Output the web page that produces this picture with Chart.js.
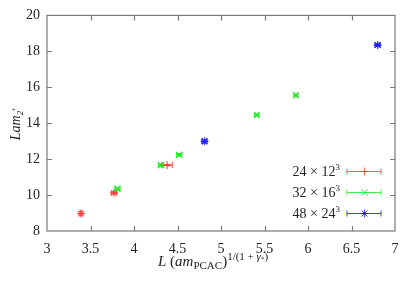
<!DOCTYPE html>
<html>
<head>
<meta charset="utf-8">
<script src="https://cdn.jsdelivr.net/npm/chart.js@4.4.1/dist/chart.umd.min.js"></script>
<style>
  html, body { margin: 0; padding: 0; background: #fff; }
  #wrap { width: 415px; height: 291px; position: relative; }
</style>
</head>
<body>
<div id="wrap"><canvas id="lamChart"></canvas></div>
<script>
// values
const xTicks = [3, 3.5, 4, 4.5, 5, 5.5, 6, 6.5, 7];
const yTicks = [8, 10, 12, 14, 16, 18, 20];

const redX = [3.39, 3.77, 4.38];
const redY = [8.97, 10.12, 11.67];
const redXErr = [0.02, 0.03, 0.06];
const redYErr = [0.12, 0.08, 0.03];

const greenX = [3.81, 4.31, 4.52, 5.41, 5.86];
const greenY = [10.35, 11.66, 12.24, 14.46, 15.56];
const greenXErr = [0.03, 0.03, 0.03, 0.02, 0.02];
const greenYErr = [0.07, 0.06, 0.07, 0.05, 0.05];

const blueX = [4.81, 6.80];
const blueY = [12.99, 18.35];
const blueXErr = [0.03, 0.03];
const blueYErr = [0.08, 0.07];

const legendLabels = [["24", "12"], ["32", "16"], ["48", "24"]];
const FONT = "'Liberation Serif', 'DejaVu Serif', serif";

function pts(xs, ys, xe, ye) {
  return xs.map((x, i) => ({ x, y: ys[i], xe: xe[i], ye: ye[i] }));
}

const series = [
  { label: "24x12^3", color: "rgba(255,40,40,0.75)", style: "cross", data: pts(redX, redY, redXErr, redYErr) },
  { label: "32x16^3", color: "rgba(20,235,20,0.8)", style: "crossRot", data: pts(greenX, greenY, greenXErr, greenYErr) },
  { label: "48x24^3", color: "rgba(20,20,255,0.8)", style: "star", data: pts(blueX, blueY, blueXErr, blueYErr) },
];

function drawMarker(c, style, x, y, r) {
  c.beginPath();
  if (style === "cross" || style === "star") {
    c.moveTo(x - r, y); c.lineTo(x + r, y);
    c.moveTo(x, y - r); c.lineTo(x, y + r);
  }
  if (style === "crossRot" || style === "star") {
    const d = r * 0.75;
    c.moveTo(x - d, y - d); c.lineTo(x + d, y + d);
    c.moveTo(x - d, y + d); c.lineTo(x + d, y - d);
  }
  c.stroke();
}

// error bars, frame with inward ticks, axis titles, legend
const extras = {
  id: "extras",
  afterDatasetsDraw(chart) {
    const c = chart.ctx;
    const xs = chart.scales.x, ys = chart.scales.y;
    const cap = 3;
    c.save();
    c.lineWidth = 1.2;
    series.forEach(s => {
      c.strokeStyle = s.color;
      s.data.forEach(p => {
        const px = xs.getPixelForValue(p.x), py = ys.getPixelForValue(p.y);
        const x0 = xs.getPixelForValue(p.x - p.xe), x1 = xs.getPixelForValue(p.x + p.xe);
        const y0 = ys.getPixelForValue(p.y - p.ye), y1 = ys.getPixelForValue(p.y + p.ye);
        c.beginPath();
        c.moveTo(x0, py); c.lineTo(x1, py);
        c.moveTo(x0, py - cap); c.lineTo(x0, py + cap);
        c.moveTo(x1, py - cap); c.lineTo(x1, py + cap);
        c.moveTo(px, y0); c.lineTo(px, y1);
        c.moveTo(px - cap, y0); c.lineTo(px + cap, y0);
        c.moveTo(px - cap, y1); c.lineTo(px + cap, y1);
        c.stroke();
      });
    });
    c.restore();
  },
  afterDraw(chart) {
    const c = chart.ctx;
    const a = chart.chartArea;
    const xs = chart.scales.x, ys = chart.scales.y;
    c.save();
    // frame
    c.strokeStyle = "#7a7a7a";
    c.lineWidth = 1.2;
    c.strokeRect(a.left, a.top, a.right - a.left, a.bottom - a.top);
    // inward ticks on all sides
    const tl = 5;
    c.beginPath();
    xTicks.slice(1, -1).forEach(v => {
      const x = Math.round(xs.getPixelForValue(v)) + 0.5;
      c.moveTo(x, a.bottom); c.lineTo(x, a.bottom - tl);
      c.moveTo(x, a.top); c.lineTo(x, a.top + tl);
    });
    yTicks.slice(1, -1).forEach(v => {
      const y = Math.round(ys.getPixelForValue(v)) + 0.5;
      c.moveTo(a.left, y); c.lineTo(a.left + tl, y);
      c.moveTo(a.right, y); c.lineTo(a.right - tl, y);
    });
    c.stroke();

    c.fillStyle = "#222";
    // y title: Lam_{2+}
    c.save();
    c.translate(15, 124);
    c.rotate(-Math.PI / 2);
    c.font = "italic 14px " + FONT;
    c.textBaseline = "alphabetic";
    const main = "Lam";
    const w1 = c.measureText(main).width;
    c.font = "italic 9px " + FONT;
    const wsub = c.measureText("2").width;
    const start = -(w1 + wsub + 3) / 2;
    c.font = "italic 14px " + FONT;
    c.fillText(main, start, 5);
    c.font = "italic 9px " + FONT;
    c.fillText("2", start + w1, 8);
    c.font = "7px " + FONT;
    c.fillText("+", start + w1 + wsub - 1, 1);
    c.restore();

    // x title: L (am_PCAC)^{1/(1 + γ*)}
    let x = 158, base = 266;
    const put = (t, f, dy) => { c.font = f; c.fillText(t, x, base + dy); x += c.measureText(t).width; };
    c.textBaseline = "alphabetic";
    put("L", "italic 15px " + FONT, 0);
    put(" (", "15px " + FONT, 0);
    put("am", "italic 15px " + FONT, 0);
    put("PCAC", "11px " + FONT, 3);
    put(")", "15px " + FONT, 0);
    put("1/(1 + ", "11px " + FONT, -6);
    put("γ", "italic 11px " + FONT, -6);
    put("*", "7px " + FONT, -5);
    put(")", "11px " + FONT, -6);

    // legend
    const rows = [171, 192, 213];
    rows.forEach((ry, i) => {
      const s = series[i];
      const [a1, b1] = legendLabels[i];
      c.fillStyle = "#222";
      c.font = "14px " + FONT;
      const t = a1 + " \u00d7 " + b1;
      c.font = "9px " + FONT;
      const ws = c.measureText("3").width;
      c.font = "14px " + FONT;
      const wt = c.measureText(t).width;
      const right = 340;
      c.fillText(t, right - ws - wt, ry + 5);
      c.font = "9px " + FONT;
      c.fillText("3", right - ws, ry - 1);
      // sample
      const lx0 = 347, lx1 = 381, mx = 364.5;
      const yy = ry + 0.5;
      c.strokeStyle = s.color;
      c.lineWidth = 1;
      c.beginPath();
      c.moveTo(lx0, yy); c.lineTo(lx1, yy);
      c.moveTo(lx0, yy - 3); c.lineTo(lx0, yy + 3);
      c.moveTo(lx1, yy - 3); c.lineTo(lx1, yy + 3);
      c.stroke();
      drawMarker(c, s.style, mx, yy, 4);
    });
    c.restore();
  }
};

new Chart(document.getElementById("lamChart"), {
  type: "scatter",
  data: {
    datasets: series.map(s => ({
      label: s.label,
      data: s.data,
      pointStyle: s.style,
      pointRadius: 4,
      pointHoverRadius: 4,
      borderColor: s.color,
      backgroundColor: s.color,
      borderWidth: 1.3,
    })),
  },
  options: {
    responsive: true,
    maintainAspectRatio: false,
    animation: false,
    layout: { padding: { top: 14, right: 20, left: 0, bottom: 0 } },
    plugins: {
      legend: { display: false },
      tooltip: { enabled: false },
    },
    scales: {
      x: {
        type: "linear",
        min: 3,
        max: 7,
        afterBuildTicks: (s) => { s.ticks = xTicks.map(v => ({ value: v })); },
        afterFit: (s) => { s.height = 60; },
        grid: { display: false, drawTicks: false },
        border: { display: false },
        ticks: {
          color: "#222",
          padding: 10,
          maxRotation: 0,
          font: { family: FONT, size: 14 },
          callback: (v) => String(v),
        },
      },
      y: {
        type: "linear",
        min: 8,
        max: 20,
        afterBuildTicks: (s) => { s.ticks = yTicks.map(v => ({ value: v })); },
        afterFit: (s) => { s.width = 47; },
        grid: { display: false, drawTicks: false },
        border: { display: false },
        ticks: {
          color: "#222",
          padding: 7,
          font: { family: FONT, size: 14 },
          callback: (v) => String(v),
        },
      },
    },
  },
  plugins: [extras],
});
</script>
</body>
</html>
